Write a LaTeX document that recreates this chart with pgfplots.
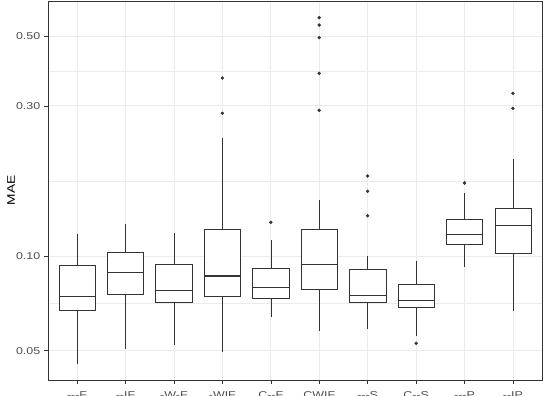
\documentclass[border=0pt]{standalone}
\usepackage{fontspec}
\setmainfont{Liberation Sans}
\newfontfamily\widefont{Liberation Sans}[FakeStretch=1.25]
\usepackage{pgfplots}
\pgfplotsset{compat=1.18}
\definecolor{gridc}{HTML}{EBEBEB}
\definecolor{tickc}{HTML}{4D4D4D}
\definecolor{boxc}{HTML}{333333}
\newcommand\hy{-\kern0pt\relax}

% y values are log10(MAE); the tick labels give MAE
\begin{document}
\begin{tikzpicture}
\begin{axis}[
  at={(0,0)}, anchor=south west,
  scale only axis, width=494bp, height=379bp,
  xmin=0.4, xmax=10.6,
  ymin=-1.394, ymax=-0.1897,
  xtick={1,2,3,4,5,6,7,8,9,10},
  xticklabels={{\hy\hy\hy F},{\hy\hy IF},{\hy W\hy F},{\hy WIF},{C\hy\hy F},{CWIF},{\hy\hy\hy S},{C\hy\hy S},{\hy\hy\hy P},{\hy\hy IP}},
  ytick={-1.30103,-1,-0.52288,-0.30103},
  yticklabels={0.05,0.10,0.30,0.50},
  minor ytick={-1.15051,-0.76144,-0.41196},
  xmajorgrids, ymajorgrids, yminorgrids,
  major grid style={gridc, line width=0.8pt},
  minor grid style={gridc, line width=0.4pt},
  tick align=outside, xtick pos=bottom, ytick pos=left,
  major tick length=3.5bp, minor tick length=0pt,
  every tick/.style={boxc, line width=0.5pt},
  axis line style={boxc, line width=0.8pt},
  ticklabel style={font=\widefont\fontsize{10}{11}\selectfont, color=tickc},
  xticklabel style={inner sep=0pt, anchor=north, yshift=-8bp},
  yticklabel style={inner sep=0pt, anchor=east, xshift=-4bp},
  ylabel={MAE},
  every axis y label/.style={at={(axis description cs:0,0.5)}, xshift=-37bp, rotate=90, anchor=center, font=\widefont\fontsize{11}{12}\selectfont},
  unbounded coords=jump,
]
% whiskers
\addplot[boxc, line width=0.5pt] coordinates {
  (1,-1.344) (1,-0.930) (nan,nan)
  (2,-1.2946) (2,-0.8974) (nan,nan)
  (3,-1.2819) (3,-0.926) (nan,nan)
  (4,-1.305) (4,-0.6241) (nan,nan)
  (5,-1.1948) (5,-0.9492) (nan,nan)
  (6,-1.2374) (6,-0.822) (nan,nan)
  (7,-1.231) (7,-1.0) (nan,nan)
  (8,-1.2542) (8,-1.0159) (nan,nan)
  (9,-1.034) (9,-0.8008) (nan,nan)
  (10,-1.1738) (10,-0.6918)
};
% boxes: lower quartile to upper quartile
\addplot[boxc, fill=white, line width=0.55pt] coordinates {(0.625,-1.1716) (1.375,-1.1716) (1.375,-1.0296) (0.625,-1.0296)} -- cycle;
\addplot[boxc, fill=white, line width=0.55pt] coordinates {(1.625,-1.1207) (2.375,-1.1207) (2.375,-0.9873) (1.625,-0.9873)} -- cycle;
\addplot[boxc, fill=white, line width=0.55pt] coordinates {(2.625,-1.1471) (3.375,-1.1471) (3.375,-1.0264) (2.625,-1.0264)} -- cycle;
\addplot[boxc, fill=white, line width=0.55pt] coordinates {(3.625,-1.1281) (4.375,-1.1281) (4.375,-0.9152) (3.625,-0.9152)} -- cycle;
\addplot[boxc, fill=white, line width=0.55pt] coordinates {(4.625,-1.1335) (5.375,-1.1335) (5.375,-1.0391) (4.625,-1.0391)} -- cycle;
\addplot[boxc, fill=white, line width=0.55pt] coordinates {(5.625,-1.1058) (6.375,-1.1058) (6.375,-0.9152) (5.625,-0.9152)} -- cycle;
\addplot[boxc, fill=white, line width=0.55pt] coordinates {(6.625,-1.1471) (7.375,-1.1471) (7.375,-1.0423) (6.625,-1.0423)} -- cycle;
\addplot[boxc, fill=white, line width=0.55pt] coordinates {(7.625,-1.163) (8.375,-1.163) (8.375,-1.0899) (7.625,-1.0899)} -- cycle;
\addplot[boxc, fill=white, line width=0.55pt] coordinates {(8.625,-0.9628) (9.375,-0.9628) (9.375,-0.8847) (8.625,-0.8847)} -- cycle;
\addplot[boxc, fill=white, line width=0.55pt] coordinates {(9.625,-0.9914) (10.375,-0.9914) (10.375,-0.8475) (9.625,-0.8475)} -- cycle;
% medians
\addplot[boxc, line width=1.4pt] coordinates {
  (0.625,-1.1293) (1.375,-1.1293) (nan,nan)
  (1.625,-1.0531) (2.375,-1.0531) (nan,nan)
  (2.625,-1.1103) (3.375,-1.1103) (nan,nan)
  (3.625,-1.0636) (4.375,-1.0636) (nan,nan)
  (4.625,-1.1007) (5.375,-1.1007) (nan,nan)
  (5.625,-1.0264) (6.375,-1.0264) (nan,nan)
  (6.625,-1.1249) (7.375,-1.1249) (nan,nan)
  (7.625,-1.1408) (8.375,-1.1408) (nan,nan)
  (8.625,-0.931) (9.375,-0.931) (nan,nan)
  (9.625,-0.9037) (10.375,-0.9037)
};
% outliers
\addplot[only marks, mark=*, mark size=1.5pt, boxc] coordinates {
  (4,-0.4344) (4,-0.5466)
  (5,-0.8929)
  (6,-0.2428) (6,-0.266) (6,-0.3063) (6,-0.4194) (6,-0.537)
  (7,-0.7458) (7,-0.7944) (7,-0.8719)
  (8,-1.2774)
  (9,-0.768)
  (10,-0.483) (10,-0.5307)
};
\end{axis}
\pgfresetboundingbox
\useasboundingbox (-48bp,-16bp) rectangle (496bp,380bp);
\end{tikzpicture}
\end{document}
